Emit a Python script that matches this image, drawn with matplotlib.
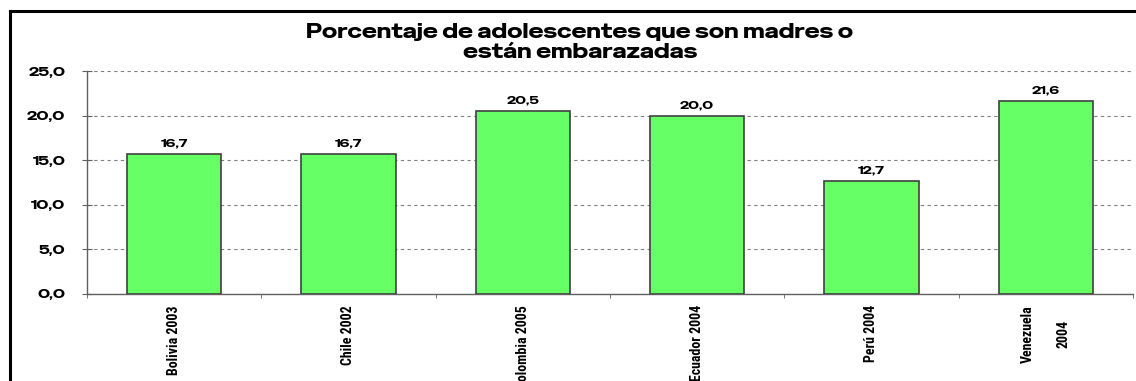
import matplotlib
matplotlib.use("Agg")
import matplotlib.pyplot as plt
from matplotlib.lines import Line2D
from matplotlib.ticker import FuncFormatter, FixedLocator

categories = ["Bolivia 2003", "Chile 2002", "Colombia 2005", "Ecuador 2004", "Perú 2004", "Venezuela\n2004"]
values = [15.7, 15.7, 20.5, 20.0, 12.7, 21.6]
value_labels = ["16,7", "16,7", "20,5", "20,0", "12,7", "21,6"]
yticks = [0, 5, 10, 15, 20, 25]
title = "Porcentaje de adolescentes que son madres o\nestán embarazadas"

WIDE = ["Special Gothic Expanded One", "Zalando Sans Expanded", "DejaVu Sans"]
NARROW = ["Roboto Condensed", "Archivo Narrow", "Sofia Sans Condensed", "Liberation Sans"]

W, H = 1136, 381
fig = plt.figure(figsize=(W / 100, H / 100), dpi=100)
fig.patch.set_facecolor("white")

ax = fig.add_axes([87 / W, 1 - 294 / H, (1133 - 87) / W, (294 - 71) / H])
x = list(range(len(categories)))
ax.bar(x, values, width=0.54, color="#66FF66", edgecolor="#404040", linewidth=1.2, zorder=3)

ax.set_xlim(-0.5, len(categories) - 0.5)
ax.set_ylim(0, 25)
ax.set_yticks(yticks)
ax.yaxis.set_major_formatter(FuncFormatter(lambda v, p: f"{v:.1f}".replace(".", ",")))
ax.yaxis.grid(True, linestyle=(0, (3, 3)), color="#808080", linewidth=0.8, zorder=0)
ax.set_axisbelow(True)

for s in ["top", "right"]:
    ax.spines[s].set_visible(False)
for s in ["left", "bottom"]:
    ax.spines[s].set_color("#606060")
    ax.spines[s].set_linewidth(1.0)

ax.set_xticks(x)
ax.set_xticklabels(categories, rotation=90, va="top", ha="center", fontsize=10,
                   fontweight="bold", family=NARROW, linespacing=3.0)
ax.tick_params(axis="x", length=0, pad=8)
ax.xaxis.set_minor_locator(FixedLocator([i - 0.5 for i in range(len(categories) + 1)]))
ax.tick_params(axis="x", which="minor", length=3, color="#606060", direction="out")
ax.tick_params(axis="y", length=7, color="#606060", pad=12, direction="inout")
for lab in ax.get_yticklabels():
    lab.set_fontsize(9.5)
    lab.set_family(WIDE)

for xi, v, lab in zip(x, values, value_labels):
    ax.annotate(lab, (xi, v), xytext=(0, 4), textcoords="offset points", ha="center", va="bottom",
                fontsize=8.5, family=WIDE, zorder=4)

fig.text(580 / W, 1 - 42 / H, title, ha="center", va="center", fontsize=14.5,
         family=WIDE, linespacing=1.12)

# outer frame (top and left edges visible)
fig.add_artist(Line2D([9.5 / W, 9.5 / W], [-0.05, 1 - 10.5 / H], transform=fig.transFigure, color="black", linewidth=2.2))
fig.add_artist(Line2D([9.5 / W, 1.05], [1 - 10.5 / H, 1 - 10.5 / H], transform=fig.transFigure, color="black", linewidth=2.2))

fig.savefig("out.png", dpi=100, facecolor="white")
